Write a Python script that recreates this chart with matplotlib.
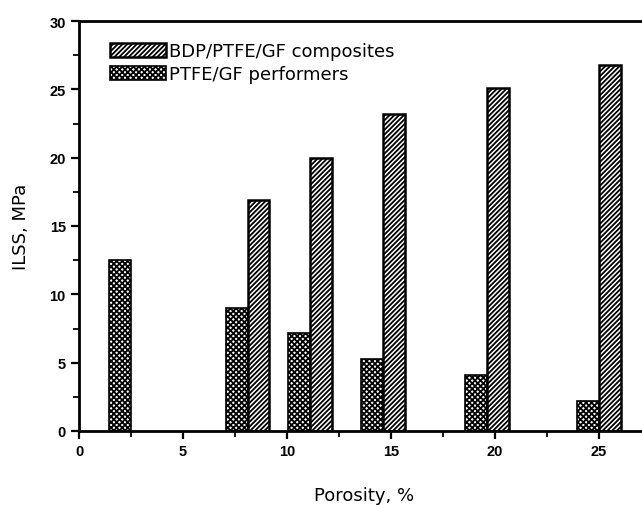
import numpy as np
import matplotlib
matplotlib.use("Agg")
from matplotlib import pyplot as plt
from matplotlib.ticker import MultipleLocator

# data
perf_por = [2.5, 8.1, 11.1, 14.6, 19.6, 25.0]
perf_ilss = [12.5, 9.0, 7.2, 5.3, 4.1, 2.2]
comp_por = [8.1, 11.1, 14.6, 19.6, 25.0]
comp_ilss = [16.9, 20.0, 23.2, 25.1, 26.8]

plt.rcParams['font.family'] = ['Liberation Sans', 'DejaVu Sans']
plt.rcParams['hatch.linewidth'] = 1.3

fig = plt.figure(figsize=(6.42, 5.06), dpi=100)
ax = fig.add_axes([79/642, 74/506, 570/642, 410/506])

bw = 1.05
ax.bar(perf_por, perf_ilss, width=-bw, align='edge', facecolor='white',
       edgecolor='black', hatch='xxxxxx', linewidth=1.2, label='PTFE/GF performers')
ax.bar(comp_por, comp_ilss, width=bw, align='edge', facecolor='white',
       edgecolor='black', hatch='///////', linewidth=1.8, label='BDP/PTFE/GF composites')

ax.set_xlim(0, 27.4)
ax.set_ylim(0, 30)
ax.xaxis.set_major_locator(MultipleLocator(5))
ax.xaxis.set_minor_locator(MultipleLocator(2.5))
ax.yaxis.set_major_locator(MultipleLocator(5))
ax.yaxis.set_minor_locator(MultipleLocator(2.5))
ax.tick_params(which='major', direction='out', length=6, width=1.6, labelsize=10.5)
ax.tick_params(which='minor', direction='out', length=4, width=1.3)
for lab in ax.get_xticklabels() + ax.get_yticklabels():
    lab.set_fontweight('bold')
for s in ax.spines.values():
    s.set_linewidth(2.0)

ax.set_xlabel('Porosity, %', fontsize=13, family='DejaVu Sans', labelpad=20)
ax.set_ylabel('ILSS, MPa', fontsize=13, family='DejaVu Sans', labelpad=14)

h, l = ax.get_legend_handles_labels()
ax.legend(h[::-1], l[::-1], loc='upper left', bbox_to_anchor=(0.035, 0.975), frameon=False,
          prop={'family': 'DejaVu Sans', 'size': 13}, handlelength=3.1, handleheight=0.85,
          handletextpad=0.2, labelspacing=0.3, borderaxespad=0.2)

fig.savefig('out.png', dpi=100)
